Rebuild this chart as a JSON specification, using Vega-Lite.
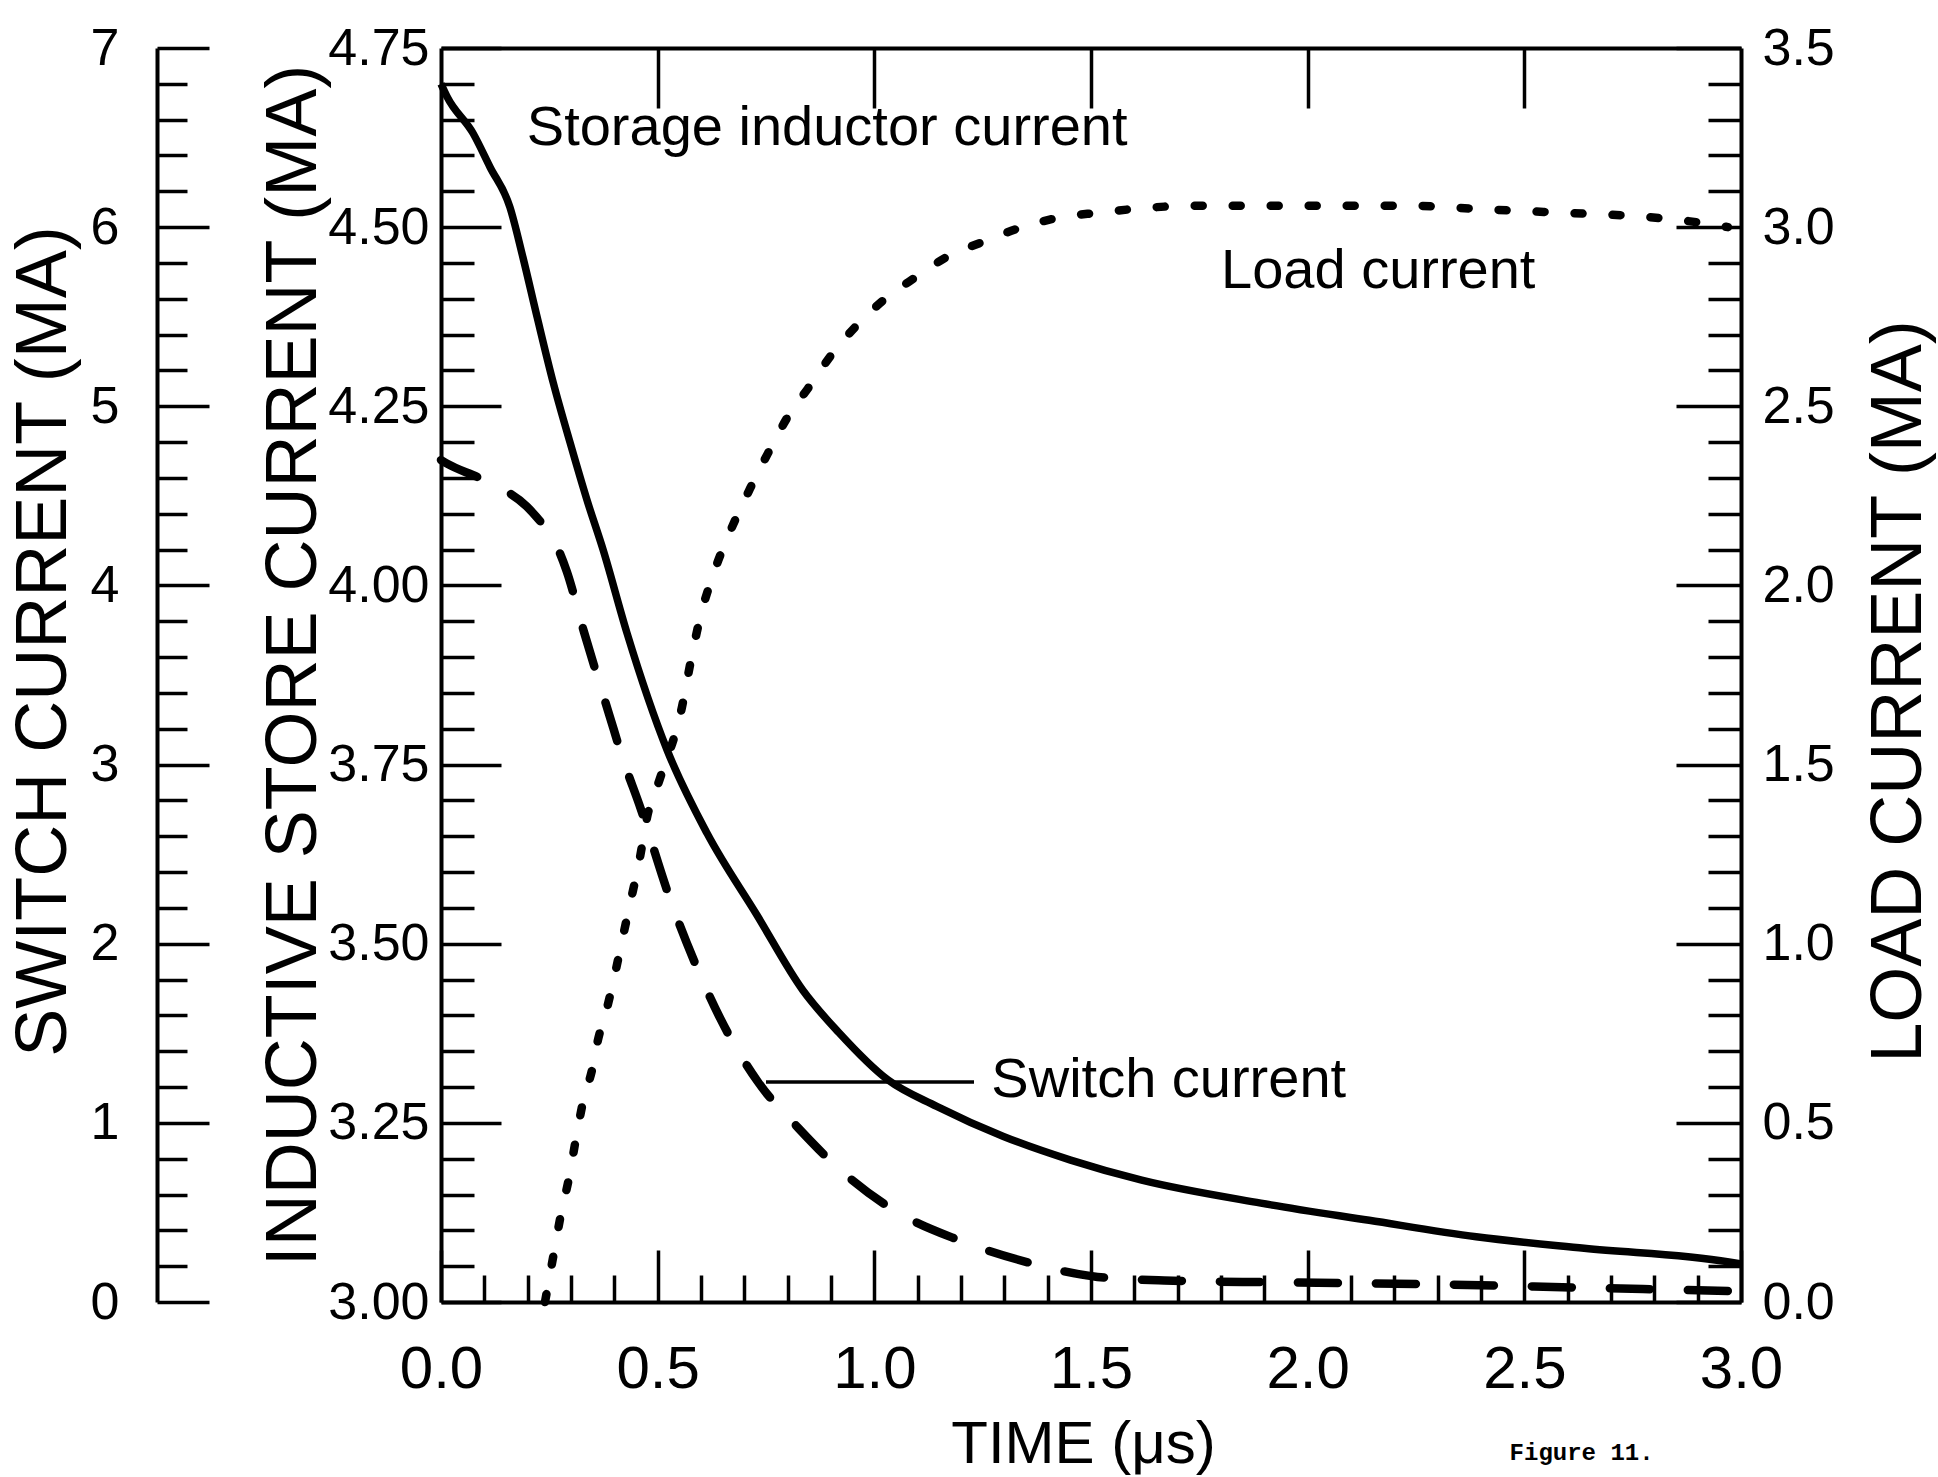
{
  "$schema": "https://vega.github.io/schema/vega-lite/v6.json",
  "width": 1300,
  "height": 1254,
  "autosize": "none",
  "padding": {"left": 441, "top": 48, "right": 197, "bottom": 175},
  "background": "white",
  "config": {
    "view": {"stroke": null},
    "axis": {
      "grid": false,
      "domainColor": "black",
      "domainWidth": 4,
      "tickColor": "black",
      "tickWidth": 3.5,
      "labelColor": "black",
      "titleColor": "black",
      "labelFont": "Liberation Sans",
      "titleFont": "Liberation Sans",
      "titleFontWeight": "normal",
      "labelOverlap": false,
      "labelFlush": false,
      "labelBound": false,
      "titleLimit": 3000,
      "labelLimit": 500
    }
  },
  "datasets": {
    "storage": [
      {"t": 0.0, "v": 4.70}, {"t": 0.014, "v": 4.682}, {"t": 0.074, "v": 4.631}, {"t": 0.113, "v": 4.584},
      {"t": 0.159, "v": 4.528}, {"t": 0.189, "v": 4.458}, {"t": 0.222, "v": 4.374}, {"t": 0.259, "v": 4.283},
      {"t": 0.298, "v": 4.199}, {"t": 0.337, "v": 4.119}, {"t": 0.374, "v": 4.05}, {"t": 0.429, "v": 3.934},
      {"t": 0.522, "v": 3.770}, {"t": 0.614, "v": 3.654}, {"t": 0.729, "v": 3.540}, {"t": 0.835, "v": 3.435},
      {"t": 0.918, "v": 3.376}, {"t": 1.031, "v": 3.310}, {"t": 1.144, "v": 3.273}, {"t": 1.298, "v": 3.231},
      {"t": 1.453, "v": 3.198}, {"t": 1.617, "v": 3.170}, {"t": 1.892, "v": 3.138}, {"t": 2.142, "v": 3.114},
      {"t": 2.389, "v": 3.091}, {"t": 2.638, "v": 3.075}, {"t": 2.972, "v": 3.056}, {"t": 3.0, "v": 3.053}
    ],
    "switch": [
      {"t": 0.0, "v": 4.70}, {"t": 0.014, "v": 4.68}, {"t": 0.097, "v": 4.59}, {"t": 0.198, "v": 4.44},
      {"t": 0.221, "v": 4.38}, {"t": 0.259, "v": 4.26}, {"t": 0.29, "v": 4.08}, {"t": 0.33, "v": 3.74},
      {"t": 0.388, "v": 3.28}, {"t": 0.42, "v": 3.03}, {"t": 0.46, "v": 2.76}, {"t": 0.53, "v": 2.24},
      {"t": 0.59, "v": 1.87}, {"t": 0.645, "v": 1.58}, {"t": 0.731, "v": 1.23}, {"t": 0.825, "v": 0.97},
      {"t": 0.934, "v": 0.71}, {"t": 1.054, "v": 0.50}, {"t": 1.19, "v": 0.35}, {"t": 1.356, "v": 0.22},
      {"t": 1.515, "v": 0.14}, {"t": 1.669, "v": 0.12}, {"t": 1.93, "v": 0.11}, {"t": 2.266, "v": 0.10},
      {"t": 2.638, "v": 0.08}, {"t": 3.0, "v": 0.06}
    ],
    "load": [
      {"t": 0.24, "v": 0.0}, {"t": 0.261, "v": 0.14}, {"t": 0.276, "v": 0.24}, {"t": 0.296, "v": 0.35},
      {"t": 0.312, "v": 0.46}, {"t": 0.328, "v": 0.56}, {"t": 0.349, "v": 0.65}, {"t": 0.362, "v": 0.73},
      {"t": 0.383, "v": 0.82}, {"t": 0.404, "v": 0.93}, {"t": 0.418, "v": 1.01}, {"t": 0.436, "v": 1.11},
      {"t": 0.459, "v": 1.24}, {"t": 0.475, "v": 1.35}, {"t": 0.505, "v": 1.46}, {"t": 0.556, "v": 1.66},
      {"t": 0.575, "v": 1.78}, {"t": 0.598, "v": 1.91}, {"t": 0.628, "v": 2.03}, {"t": 0.667, "v": 2.15},
      {"t": 0.713, "v": 2.27}, {"t": 0.755, "v": 2.37}, {"t": 0.805, "v": 2.48}, {"t": 0.847, "v": 2.55},
      {"t": 0.905, "v": 2.65}, {"t": 0.955, "v": 2.72}, {"t": 1.025, "v": 2.80}, {"t": 1.095, "v": 2.86},
      {"t": 1.172, "v": 2.92}, {"t": 1.253, "v": 2.96}, {"t": 1.341, "v": 3.00}, {"t": 1.442, "v": 3.03},
      {"t": 1.516, "v": 3.04}, {"t": 1.592, "v": 3.05}, {"t": 1.742, "v": 3.06}, {"t": 1.987, "v": 3.06},
      {"t": 2.225, "v": 3.06}, {"t": 2.407, "v": 3.05}, {"t": 2.589, "v": 3.04}, {"t": 2.765, "v": 3.03},
      {"t": 2.92, "v": 3.01}, {"t": 2.97, "v": 3.00}
    ],
    "leader": [{"t": 0.75, "t2": 1.23, "v": 0.614}],
    "notes": [
      {"t": 0.198, "v": 3.229, "label": "Storage inductor current"},
      {"t": 1.80, "v": 2.83, "label": "Load current"},
      {"t": 1.27, "v": 0.572, "label": "Switch current"}
    ],
    "figure": [{"t": 2.466, "v": -0.44, "label": "Figure 11."}]
  },
  "layer": [
    {
      "data": {"name": "storage"},
      "mark": {"type": "line", "stroke": "black", "strokeWidth": 7.5, "interpolate": "monotone"},
      "encoding": {
        "x": {
          "field": "t", "type": "quantitative",
          "scale": {"domain": [0, 3], "nice": false, "zero": false},
          "axis": {
            "orient": "bottom",
            "values": [0, 0.1, 0.2, 0.3, 0.4, 0.5, 0.6, 0.7, 0.8, 0.9, 1.0, 1.1, 1.2, 1.3, 1.4, 1.5, 1.6, 1.7, 1.8, 1.9, 2.0, 2.1, 2.2, 2.3, 2.4, 2.5, 2.6, 2.7, 2.8, 2.9, 3.0],
            "tickSize": {"condition": {"test": "abs(datum.value*2 - round(datum.value*2)) < 0.001", "value": -52}, "value": -27},
            "labelExpr": "abs(datum.value*2 - round(datum.value*2)) < 0.001 ? format(datum.value, '.1f') : ''",
            "labelFontSize": 60,
            "labelPadding": 90,
            "labelBaseline": "top",
            "title": "TIME (μs)",
            "titleFontSize": 60,
            "titleX": 642,
            "titleY": 160,
            "titleBaseline": "alphabetic",
            "titleAlign": "center"
          }
        },
        "y": {
          "field": "v", "type": "quantitative",
          "scale": {"domain": [3, 4.75], "nice": false, "zero": false},
          "axis": {
            "orient": "left",
            "offset": 0,
            "values": [3.0, 3.05, 3.1, 3.15, 3.2, 3.25, 3.3, 3.35, 3.4, 3.45, 3.5, 3.55, 3.6, 3.65, 3.7, 3.75, 3.8, 3.85, 3.9, 3.95, 4.0, 4.05, 4.1, 4.15, 4.2, 4.25, 4.3, 4.35, 4.4, 4.45, 4.5, 4.55, 4.6, 4.65, 4.7, 4.75],
            "tickSize": {"condition": {"test": "abs(datum.value*4 - round(datum.value*4)) < 0.001", "value": -60}, "value": -33},
            "labelExpr": "abs(datum.value*4 - round(datum.value*4)) < 0.001 ? format(datum.value, '.2f') : ''",
            "labelFontSize": 52,
            "labelPadding": 72,
            "labelBaseline": "middle",
            "title": "INDUCTIVE STORE CURRENT (MA)",
            "titleFontSize": 72,
            "titleAngle": 270,
            "titleX": -126,
            "titleY": 617,
            "titleBaseline": "alphabetic",
            "titleAlign": "center"
          }
        }
      }
    },
    {
      "data": {"name": "switch"},
      "mark": {"type": "line", "stroke": "black", "strokeWidth": 8.5, "strokeDash": [40, 38], "strokeCap": "round", "interpolate": "monotone"},
      "encoding": {
        "x": {
          "field": "t", "type": "quantitative",
          "scale": {"domain": [0, 3], "nice": false, "zero": false},
          "axis": {
            "orient": "top",
            "values": [0.5, 1.0, 1.5, 2.0, 2.5],
            "tickSize": -60,
            "labels": false,
            "title": null
          }
        },
        "y": {
          "field": "v", "type": "quantitative",
          "scale": {"domain": [0, 7], "nice": false, "zero": false},
          "axis": {
            "orient": "left",
            "offset": 284,
            "values": [0, 0.2, 0.4, 0.6, 0.8, 1.0, 1.2, 1.4, 1.6, 1.8, 2.0, 2.2, 2.4, 2.6, 2.8, 3.0, 3.2, 3.4, 3.6, 3.8, 4.0, 4.2, 4.4, 4.6, 4.8, 5.0, 5.2, 5.4, 5.6, 5.8, 6.0, 6.2, 6.4, 6.6, 6.8, 7.0],
            "tickSize": {"condition": {"test": "abs(datum.value - round(datum.value)) < 0.001", "value": -52}, "value": -30},
            "labelExpr": "abs(datum.value - round(datum.value)) < 0.001 ? format(datum.value, 'd') : ''",
            "labelFontSize": 52,
            "labelPadding": 90,
            "labelBaseline": "middle",
            "title": "SWITCH CURRENT (MA)",
            "titleFontSize": 72,
            "titleAngle": 270,
            "titleX": -92,
            "titleY": 593,
            "titleBaseline": "alphabetic",
            "titleAlign": "center"
          }
        }
      }
    },
    {
      "data": {"name": "load"},
      "mark": {"type": "line", "stroke": "black", "strokeWidth": 8.5, "strokeDash": [8, 30], "strokeCap": "round", "interpolate": "monotone"},
      "encoding": {
        "x": {"field": "t", "type": "quantitative", "scale": {"domain": [0, 3], "nice": false, "zero": false}, "axis": null},
        "y": {
          "field": "v", "type": "quantitative",
          "scale": {"domain": [0, 3.5], "nice": false, "zero": false},
          "axis": {
            "orient": "right",
            "offset": 0,
            "values": [0, 0.1, 0.2, 0.3, 0.4, 0.5, 0.6, 0.7, 0.8, 0.9, 1.0, 1.1, 1.2, 1.3, 1.4, 1.5, 1.6, 1.7, 1.8, 1.9, 2.0, 2.1, 2.2, 2.3, 2.4, 2.5, 2.6, 2.7, 2.8, 2.9, 3.0, 3.1, 3.2, 3.3, 3.4, 3.5],
            "tickSize": {"condition": {"test": "abs(datum.value*2 - round(datum.value*2)) < 0.001", "value": -65}, "value": -33},
            "labelExpr": "abs(datum.value*2 - round(datum.value*2)) < 0.001 ? format(datum.value, '.1f') : ''",
            "labelFontSize": 52,
            "labelPadding": 86,
            "labelBaseline": "middle",
            "title": "LOAD CURRENT (MA)",
            "titleFontSize": 72,
            "titleAngle": 270,
            "titleX": 179,
            "titleY": 643,
            "titleBaseline": "alphabetic",
            "titleAlign": "center"
          }
        }
      }
    },
    {
      "data": {"name": "leader"},
      "mark": {"type": "rule", "stroke": "black", "strokeWidth": 3.5},
      "encoding": {
        "x": {"field": "t", "type": "quantitative", "scale": {"domain": [0, 3], "nice": false, "zero": false}, "axis": null},
        "x2": {"field": "t2"},
        "y": {"field": "v", "type": "quantitative", "scale": {"domain": [0, 3.5], "nice": false, "zero": false}, "axis": null}
      }
    },
    {
      "data": {"name": "notes"},
      "mark": {"type": "text", "align": "left", "baseline": "alphabetic", "font": "Liberation Sans", "fontSize": 56, "color": "black"},
      "encoding": {
        "x": {"field": "t", "type": "quantitative", "scale": {"domain": [0, 3], "nice": false, "zero": false}, "axis": null},
        "y": {"field": "v", "type": "quantitative", "scale": {"domain": [0, 3.5], "nice": false, "zero": false}, "axis": null},
        "text": {"field": "label"}
      }
    },
    {
      "data": {"name": "figure"},
      "mark": {"type": "text", "align": "left", "baseline": "alphabetic", "font": "Liberation Mono", "fontWeight": "bold", "fontSize": 24, "color": "black"},
      "encoding": {
        "x": {"field": "t", "type": "quantitative", "scale": {"domain": [0, 3], "nice": false, "zero": false}, "axis": null},
        "y": {"field": "v", "type": "quantitative", "scale": {"domain": [0, 3.5], "nice": false, "zero": false}, "axis": null},
        "text": {"field": "label"}
      }
    }
  ],
  "resolve": {"scale": {"y": "independent"}, "axis": {"x": "independent", "y": "independent"}}
}
